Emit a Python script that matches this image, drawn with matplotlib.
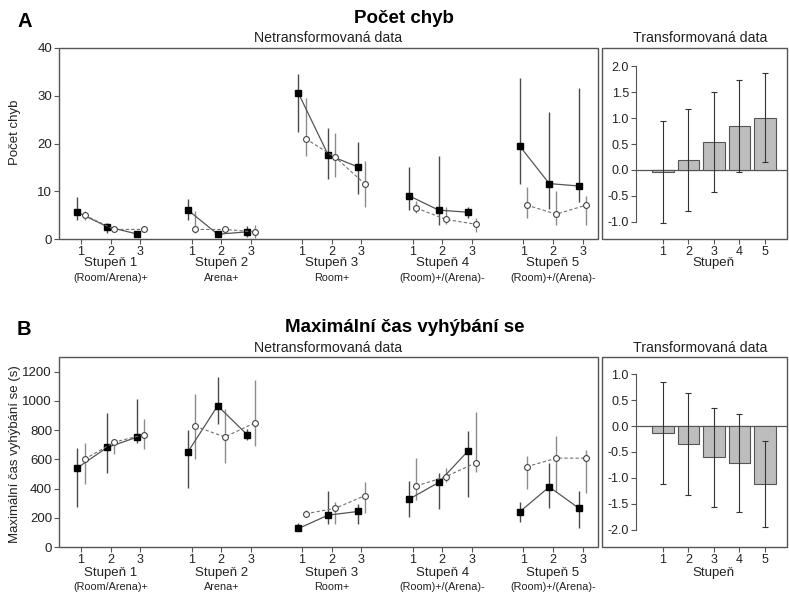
import matplotlib
matplotlib.use("Agg")
import matplotlib.pyplot as plt
import matplotlib.transforms as mtransforms
from matplotlib.patches import Rectangle
import numpy as np

plt.rcParams['font.family'] = ['Liberation Sans', 'DejaVu Sans']
plt.rcParams['axes.unicode_minus'] = False

# --- data -------------------------------------------------------------
stages = ["Stupeň 1", "Stupeň 2", "Stupeň 3", "Stupeň 4", "Stupeň 5"]
conditions = ["(Room/Arena)+", "Arena+", "Room+", "(Room)+/(Arena)-", "(Room)+/(Arena)-"]
sessions = ["1", "2", "3"]

# A: pocet chyb (filled squares / open circles), 5 stages x 3 sessions
a_sq = [5.6, 2.6, 1.05, 6.05, 1.0, 1.5, 30.5, 17.6, 15.1, 9.05, 6.05, 5.6, 19.5, 11.6, 11.1]
a_sq_hi = [8.8, 3.3, 1.6, 8.3, 1.5, 2.7, 34.5, 23.3, 20.3, 15.0, 17.4, 6.8, 33.8, 26.6, 31.7]
a_sq_lo = [4.0, 1.2, 0.5, 4.0, 0.5, 0.5, 22.4, 12.5, 9.5, 6.1, 2.9, 4.5, 11.5, 6.2, 7.8]
a_ci = [5.0, 2.0, 2.0, 2.0, 2.0, 1.5, 21.0, 17.1, 11.5, 6.5, 4.1, 3.1, 7.1, 5.2, 7.1]
a_ci_hi = [5.9, 2.4, 2.5, 5.9, 2.4, 2.9, 29.6, 22.1, 16.3, 7.9, 6.8, 4.3, 10.9, 10.1, 9.0]
a_ci_lo = [4.0, 1.6, 1.4, 1.2, 1.6, 0.3, 17.4, 13.0, 6.8, 5.4, 3.1, 1.4, 4.5, 2.9, 2.9]

# B: maximalni cas vyhybani se (s)
b_sq = [542, 681, 751, 651, 966, 767, 127, 218, 243, 327, 442, 660, 240, 411, 265]
b_sq_hi = [674, 919, 1010, 799, 1162, 810, 163, 383, 295, 451, 504, 792, 309, 572, 386]
b_sq_lo = [277, 508, 712, 401, 844, 730, 118, 159, 159, 204, 263, 340, 170, 270, 129]
b_ci = [601, 717, 769, 826, 753, 848, 227, 265, 352, 417, 481, 576, 549, 608, 608]
b_ci_hi = [715, 742, 876, 1048, 946, 1143, 254, 306, 447, 606, 542, 923, 626, 758, 667]
b_ci_lo = [429, 633, 671, 599, 578, 692, 209, 159, 236, 322, 447, 510, 397, 379, 368]

# transformed data (bars)
bar_x = [1, 2, 3, 4, 5]
a_bar = [-0.04, 0.19, 0.54, 0.85, 1.01]
a_bar_err = [0.99, 0.99, 0.96, 0.89, 0.86]
b_bar = [-0.135, -0.35, -0.60, -0.71, -1.11]
b_bar_err = [0.99, 0.98, 0.95, 0.94, 0.83]

# --- style ------------------------------------------------------------
frame_c = '#555555'
txt_c = '#222222'
gap = 3.72      # distance between stage groups
off = 0.12      # horizontal offset of the two series


def frame(ax):
    r = Rectangle((0, 0), 1, 1, transform=ax.transAxes, fill=False,
                  edgecolor=frame_c, lw=1.0, clip_on=False, zorder=5)
    ax.add_patch(r)


def raw_panel(ax, sq, sq_hi, sq_lo, ci, ci_hi, ci_lo, ylim, yticks, sub_y):
    for g in range(5):
        base = g * gap
        xs = np.arange(3) + base
        idx = slice(g * 3, g * 3 + 3)
        s = np.array(sq[idx], float)
        c = np.array(ci[idx], float)
        s_err = [s - np.array(sq_lo[idx]), np.array(sq_hi[idx]) - s]
        c_err = [c - np.array(ci_lo[idx]), np.array(ci_hi[idx]) - c]
        ax.errorbar(xs - off, s, yerr=s_err, fmt='none', ecolor='#4a4a4a',
                    elinewidth=1.0, capsize=0, zorder=2)
        ax.errorbar(xs + off, c, yerr=c_err, fmt='none', ecolor='#8c8c8c',
                    elinewidth=1.0, capsize=0, zorder=2)
        ax.plot(xs - off, s, '-', color='#555555', lw=0.9, marker='s', ms=4.3,
                mfc='black', mec='black', zorder=4)
        ax.plot(xs + off, c, '--', color='#707070', lw=0.8, marker='o', ms=4.2,
                mfc='white', mec='#444444', mew=0.8, zorder=4, dashes=(3, 2))
    ticks = [g * gap + s for g in range(5) for s in range(3)]
    ax.set_xticks(ticks)
    ax.set_xticklabels(sessions * 5)
    ax.set_xlim(-0.74, 4 * gap + 2.52)
    ax.set_ylim(*ylim)
    ax.set_yticks(yticks)
    for sp in ax.spines.values():
        sp.set_visible(False)
    frame(ax)
    ax.tick_params(axis='both', direction='out', length=3.5, width=0.8,
                   color=frame_c, labelcolor=txt_c, labelsize=9, pad=1.5)
    ax.tick_params(axis='y', labelsize=9.5)
    trans = mtransforms.blended_transform_factory(ax.transData, ax.transAxes)
    for g in range(5):
        ax.text(g * gap + 1, sub_y[0], stages[g], transform=trans, ha='center',
                va='center', fontsize=9.5, color=txt_c)
        ax.text(g * gap + 1, sub_y[1], conditions[g], transform=trans, ha='center',
                va='center', fontsize=7.8, color=txt_c)


def bar_panel(ax, vals, errs, ylim, spine_lo, spine_hi, xlab_y):
    ax.bar(bar_x, vals, width=0.84, color='#bdbdbd', edgecolor='#555555',
           linewidth=0.8, zorder=2)
    ax.errorbar(bar_x, vals, yerr=errs, fmt='none', ecolor='#333333',
                elinewidth=0.8, capsize=2.5, capthick=0.8, zorder=3)
    ax.set_xlim(-1.38, 5.86)
    ax.set_ylim(*ylim)
    ax.plot([-0.055, 5.86], [0, 0], color=frame_c, lw=0.9, zorder=1)
    for k in ['top', 'right', 'bottom']:
        ax.spines[k].set_visible(False)
    ax.spines['left'].set_position(('data', -0.055))
    ax.spines['left'].set_bounds(spine_lo, spine_hi)
    ax.spines['left'].set_color(frame_c)
    ax.spines['left'].set_linewidth(0.8)
    frame(ax)
    ax.set_yticks(np.arange(spine_lo, spine_hi + 0.01, 0.5))
    ax.yaxis.set_major_formatter(plt.FormatStrFormatter('%.1f'))
    ax.set_xticks(bar_x)
    ax.tick_params(axis='both', direction='out', length=3.5, width=0.8,
                   color=frame_c, labelcolor=txt_c, labelsize=9, pad=1.5)
    ax.tick_params(axis='y', labelsize=9)
    ax.text(3, xlab_y, "Stupeň", transform=mtransforms.blended_transform_factory(
        ax.transData, ax.transAxes), ha='center', va='center', fontsize=9.5, color=txt_c)


fig = plt.figure(figsize=(7.89, 5.93), dpi=100)
W, H = 789.0, 593.0

axA = fig.add_axes([59 / W, 1 - 239 / H, 539 / W, 191 / H])
axA2 = fig.add_axes([602 / W, 1 - 239 / H, 185 / W, 191 / H])
axB = fig.add_axes([59 / W, 1 - 547 / H, 539 / W, 190 / H])
axB2 = fig.add_axes([602 / W, 1 - 547 / H, 185 / W, 190 / H])

raw_panel(axA, a_sq, a_sq_hi, a_sq_lo, a_ci, a_ci_hi, a_ci_lo,
          (0, 40), [0, 10, 20, 30, 40], (-0.128, -0.202))
raw_panel(axB, b_sq, b_sq_hi, b_sq_lo, b_ci, b_ci_hi, b_ci_lo,
          (0, 1300), [0, 200, 400, 600, 800, 1000, 1200], (-0.136, -0.213))
bar_panel(axA2, a_bar, a_bar_err, (-1.33, 2.35), -1.0, 2.0, -0.128)
bar_panel(axB2, b_bar, b_bar_err, (-2.33, 1.33), -2.0, 1.0, -0.136)

# titles
fig.text(18 / W, 1 - 21.5 / H, "A", ha='left', va='center', fontsize=14.5,
         fontweight='bold', color='black')
fig.text(403.5 / W, 1 - 18.5 / H, "Počet chyb", ha='center', va='center',
         fontsize=13.5, fontweight='bold', color='black')
fig.text(328.5 / W, 1 - 38 / H, "Netransformovaná data", ha='center', va='center',
         fontsize=10.2, color=txt_c)
fig.text(700 / W, 1 - 38 / H, "Transformovaná data", ha='center', va='center',
         fontsize=10.2, color=txt_c)

fig.text(17 / W, 1 - 329.5 / H, "B", ha='left', va='center', fontsize=14.5,
         fontweight='bold', color='black')
fig.text(404.5 / W, 1 - 327 / H, "Maximální čas vyhýbání se", ha='center',
         va='center', fontsize=13.5, fontweight='bold', color='black')
fig.text(328.5 / W, 1 - 347.5 / H, "Netransformovaná data", ha='center', va='center',
         fontsize=10.2, color=txt_c)
fig.text(700 / W, 1 - 347.5 / H, "Transformovaná data", ha='center', va='center',
         fontsize=10.2, color=txt_c)

fig.text(15 / W, 1 - 132.5 / H, "Počet chyb", rotation=90, ha='center',
         va='center', fontsize=9.5, color=txt_c)
fig.text(15 / W, 1 - 454 / H, "Maximální čas vyhýbání se (s)", rotation=90,
         ha='center', va='center', fontsize=9.5, color=txt_c)

fig.savefig("out.png", dpi=100)
